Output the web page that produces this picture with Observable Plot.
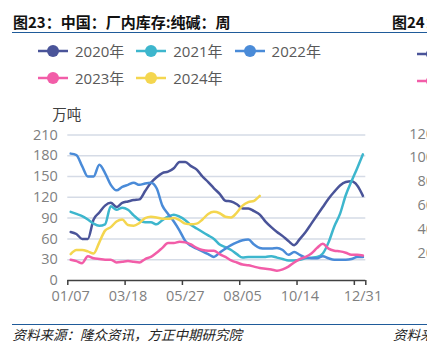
<!DOCTYPE html>
<html>
<head>
<meta charset="utf-8">
<script src="https://cdn.jsdelivr.net/npm/d3@7"></script>
<script src="https://cdn.jsdelivr.net/npm/@observablehq/plot@0.6"></script>
<style>
  html, body { margin: 0; padding: 0; background: #fff; }
  body { width: 427px; height: 351px; overflow: hidden; position: relative;
         font-family: "Open Sans", "Noto Sans CJK SC", sans-serif; }
  .abs { position: absolute; white-space: nowrap; }
  .title { font-family: "Noto Sans CJK SC", sans-serif; font-weight: 700; font-size: 15px; line-height: 20px; color: #111; }
  .rule { position: absolute; height: 1.5px; background: #1F5B9A; }
  .foot { font-family: "Noto Sans CJK SC", sans-serif; font-style: italic; font-size: 13.5px; line-height: 18px; color: #222; }
  #legend { position: absolute; left: 38px; top: 37px; width: 300px; display: flex; flex-wrap: wrap; }
  .item { width: 98.3px; height: 27px; display: flex; align-items: center; font-size: 15px; color: #595959; }
  .item svg { margin-right: 7px; }
  .rtick { position: absolute; right: -7px; font-size: 14.5px; color: #7f7f7f; line-height: 16px; }
  #chart { position: absolute; left: 0; top: 100px; }
</style>
</head>
<body>
<div class="abs title" style="left:13px; top:11.5px;">图23：中国：厂内库存:纯碱：周</div>
<div class="abs title" style="left:392px; top:11.5px;">图24：</div>
<div class="rule" style="left:12px; top:31.5px; width:415px;"></div>
<div id="legend"></div>
<div id="chart"></div>
<div class="rule" style="left:12px; top:323.5px; width:415px;"></div>
<div class="abs foot" style="left:12.5px; top:324.5px;">资料来源：隆众资讯，方正中期研究院</div>
<div class="abs foot" style="left:393px; top:324.5px;">资料来源：</div>
<div id="side"></div>
<script>
// ---- data ----
const years = ["2020年", "2021年", "2022年", "2023年", "2024年"];
const colors = ["#4A5499", "#3DB6CD", "#4A8BD8", "#F25DA8", "#F4D64F"];
const xTickLabels = ["01/07", "03/18", "05/27", "08/05", "10/14", "12/31"];
const xTickWeeks = [0, 10, 20, 30, 40, 51];
const xTickBounds = [0, 10, 20, 30, 40, 50, 52];
const yTicks = [0, 30, 60, 90, 120, 150, 180, 210];

const s2020 = [70,67,60,60,88,98,108,112,106,112, 114,116,117,129,141,149,155,157,162,171, 171,165,160,150,142,133,125,115,114,110, 104,104,100,95,85,77,70,64,57,51, 60,70,82,94,106,118,128,137,142,143, 137,122];
const s2021 = [99,96,93,88,82,79,81,107,102,105, 102,94,87,84,84,81,87,92,95,92, 87,80,75,70,65,60,52,48,44,38, 33,34,34,34,34,35,33,31,29,29, 30,32,33,34,39,55,78,96,123,143, 162,182];
const s2022 = [183,181,165,150,150,167,155,138,130,135, 138,141,138,140,141,133,108,96,85,72, 57,50,46,42,38,34,40,46,51,55, 58,59,52,47,46,46,47,44,37,41, 37,33,32,32,35,32,30,30,30,31, 34,34];
const s2023 = [30,28,25,35,32,31,30,30,26,27, 28,27,26,31,34,40,47,54,54,56, 55,52,47,44,43,43,38,34,29,26, 23,22,20,18,17,16,14,16,20,26, 31,34,39,47,53,46,43,42,40,37, 37,36];
const s2024 = [38,44,44,42,39,55,72,77,85,88, 80,79,83,90,92,91,89,89,90,87, 82,81,82,88,96,99,97,92,91,98, 108,113,115,122];
const series = [s2020, s2021, s2022, s2023, s2024];

const rows = [];
series.forEach((vals, k) => vals.forEach((v, i) => rows.push({year: years[k], week: i + 0.5, value: v})));

// ---- legend ----
const legend = document.getElementById("legend");
years.forEach((y, k) => {
  const it = document.createElement("div");
  it.className = "item";
  it.innerHTML = `<svg width="30" height="14"><line x1="0" x2="30" y1="7" y2="7" stroke="${colors[k]}" stroke-width="2.5"/><circle cx="15" cy="7" r="6" fill="${colors[k]}"/></svg><span>${y}</span>`;
  legend.appendChild(it);
});

// ---- neighbouring chart fragments (cut off at the right edge) ----
const side = document.getElementById("side");
[["120",125.5],["100",149],["80",173],["60",197],["40",220.5],["20",245]].forEach(([t, top]) => {
  const d = document.createElement("div");
  d.className = "rtick"; d.textContent = t; d.style.top = top + "px";
  side.appendChild(d);
});
[[colors[0], 43.7], [colors[3], 70.7]].forEach(([c, top]) => {
  const d = document.createElement("div");
  d.className = "abs"; d.style.left = "416.7px"; d.style.top = top + "px";
  d.innerHTML = `<svg width="30" height="14"><line x1="0" x2="30" y1="7" y2="7" stroke="${c}" stroke-width="2.5"/><circle cx="15" cy="7" r="6" fill="${c}"/></svg>`;
  side.appendChild(d);
});

// ---- chart ----
const chart = Plot.plot({
  width: 427,
  height: 210,
  marginLeft: 67.3,
  marginRight: 61.7,
  marginTop: 34.4,
  marginBottom: 30,
  style: {fontFamily: "'Open Sans','Noto Sans CJK SC',sans-serif", fontSize: "14.5px", background: "transparent", overflow: "visible"},
  x: {domain: [0, 52], axis: null},
  y: {domain: [0, 210], axis: null},
  color: {domain: years, range: colors},
  marks: [
    Plot.gridY(yTicks.filter(d => d > 0), {stroke: "#D5DBE6", strokeOpacity: 1, strokeWidth: 1.5}),
    Plot.axisY(yTicks, {tickSize: 0, tickPadding: 10, fill: "#7f7f7f", label: null}),
    Plot.text(["万吨"], {frameAnchor: "top-left", dx: -1, dy: -25.4, textAnchor: "middle", fill: "#404040", fontSize: 14.5}),
    Plot.ruleY([0], {stroke: "#404040", strokeWidth: 1.5}),
    Plot.axisX(xTickBounds, {tickSize: 5, tickFormat: () => "", stroke: "#404040", strokeWidth: 1.5, label: null}),
    Plot.axisX(xTickWeeks.map(w => w + 0.5), {tickSize: 0, tickPadding: 10, fill: "#7f7f7f", label: null,
      tickFormat: d => xTickLabels[xTickWeeks.indexOf(d - 0.5)]}),
    Plot.line(rows, {x: "week", y: "value", z: "year", stroke: "year", strokeWidth: 2.5, curve: "monotone-x"})
  ]
});
document.getElementById("chart").appendChild(chart);
</script>
</body>
</html>
